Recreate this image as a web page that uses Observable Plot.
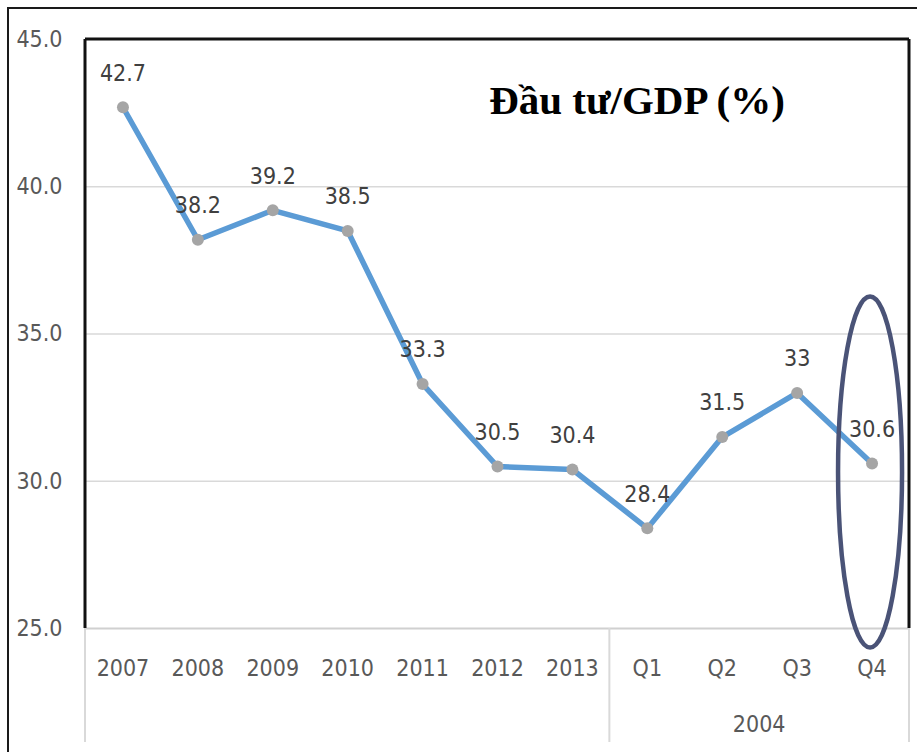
<!DOCTYPE html>
<html><head><meta charset="utf-8">
<script src="https://cdn.jsdelivr.net/npm/d3@7"></script>
<script src="https://cdn.jsdelivr.net/npm/@observablehq/plot@0.6"></script>
<style>
html,body{margin:0;padding:0;background:#fff;}
#wrap{position:relative;width:917px;height:752px;overflow:hidden;background:#fff;}
#outer{position:absolute;left:7px;top:7px;width:940px;height:780px;border-left:2.5px solid #1a1a1a;border-top:2.5px solid #1a1a1a;box-sizing:border-box;}
#chart{position:absolute;left:0;top:0;}
</style></head><body>
<div id="wrap"><div id="outer"></div><div id="chart"></div></div>
<script>
const categories = ["2007","2008","2009","2010","2011","2012","2013","Q1","Q2","Q3","Q4"];
const values = [42.7, 38.2, 39.2, 38.5, 33.3, 30.5, 30.4, 28.4, 31.5, 33, 30.6];
const labels = ["42.7","38.2","39.2","38.5","33.3","30.5","30.4","28.4","31.5","33","30.6"];
const yTicks = [25, 30, 35, 40, 45];
const groupLabel = "2004";
const groupMembers = ["Q1","Q2","Q3","Q4"];
const titleText = "Đầu tư/GDP (%)";
const highlight = "Q4";
const highlightCenterValue = 30.3;

(function () {
const data = categories.map((c, i) => ({cat: c, value: values[i], label: labels[i]}));
const FONT = '"DejaVu Sans Condensed","Liberation Sans Narrow",sans-serif';
const FS = 23;

const chart = Plot.plot({
  width: 917, height: 752,
  marginLeft: 85, marginRight: 8, marginTop: 39, marginBottom: 124,
  style: {fontFamily: FONT, background: "transparent", overflow: "visible"},
  x: {type: "band", domain: categories, padding: 0, round: false},
  y: {domain: [25, 45]},
  marks: [
    Plot.gridY(yTicks.filter(t => t > 25 && t < 45), {stroke: "#d9d9d9", strokeOpacity: 1, strokeWidth: 1.5}),
    Plot.ruleY([25], {stroke: "#d0d0d0", strokeWidth: 2}),
    Plot.axisY(yTicks, {tickSize: 0, tickPadding: 23, tickFormat: d => d.toFixed(1), fontSize: FS, fill: "#595959", label: null}),
    Plot.axisX({tickSize: 0, tickPadding: 31, fontSize: FS, fill: "#595959", label: null}),
    Plot.line(data, {x: "cat", y: "value", stroke: "#5b9bd5", strokeWidth: 5.5}),
    Plot.dot(data, {x: "cat", y: "value", r: 6, fill: "#a5a5a5"}),
    Plot.text(data, {x: "cat", y: "value", text: "label", dy: -34, fontSize: FS, fill: "#404040"})
  ]
});

document.getElementById("chart").appendChild(chart);

const xs = chart.scale("x"), ys = chart.scale("y");
const bw = xs.bandwidth;
const svg = d3.select(chart);
const x0 = xs.apply(categories[0]);
const x1 = xs.apply(categories[categories.length - 1]) + bw;
const yTop = ys.apply(45), yBot = ys.apply(25);

const box = svg.append("g").attr("stroke", "#111").attr("stroke-width", 3);
box.append("line").attr("x1", x0).attr("x2", x1).attr("y1", yTop).attr("y2", yTop);
box.append("line").attr("x1", x0).attr("x2", x0).attr("y1", yTop).attr("y2", yBot);
box.append("line").attr("x1", x1).attr("x2", x1).attr("y1", yTop).attr("y2", yBot);

const sepX = [x0, xs.apply(groupMembers[0]), x1];
svg.append("g").attr("stroke", "#d9d9d9").attr("stroke-width", 2)
  .selectAll("line").data(sepX).join("line")
  .attr("x1", d => d).attr("x2", d => d).attr("y1", yBot).attr("y2", yBot + 114);

const gx = (xs.apply(groupMembers[0]) + xs.apply(groupMembers[groupMembers.length - 1]) + bw) / 2;
svg.append("text").attr("x", gx).attr("y", yBot + 104)
  .attr("text-anchor", "middle").attr("font-size", FS).attr("fill", "#595959")
  .attr("font-family", FONT).text(groupLabel);

svg.append("text").attr("x", 637).attr("y", 114)
  .attr("text-anchor", "middle").attr("font-size", 41).attr("font-weight", "bold")
  .attr("fill", "#000").attr("font-family", '"Liberation Serif","Times New Roman",serif')
  .text(titleText);

svg.append("ellipse")
  .attr("cx", xs.apply(highlight) + bw / 2 - 1.5)
  .attr("cy", ys.apply(highlightCenterValue))
  .attr("rx", 32).attr("ry", 175.5)
  .attr("fill", "none").attr("stroke", "#4a5377").attr("stroke-width", 4.5);
})();
</script>
</body></html>
